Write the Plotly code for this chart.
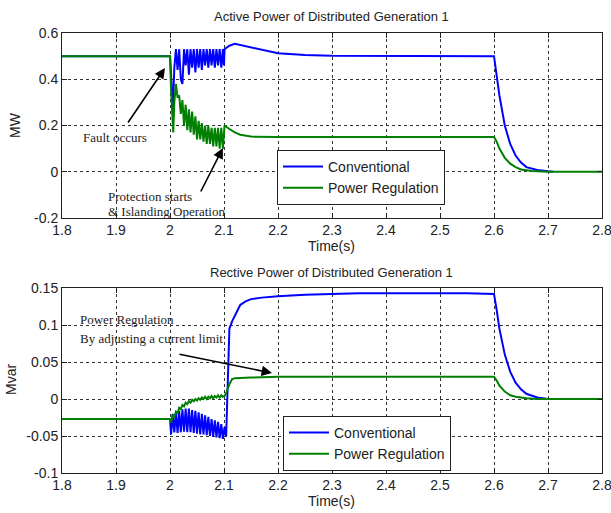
import plotly.graph_objects as go

# ---------------- DATA ----------------
# Active power (MW)
t_p_conv = [1.8, 2.0, 2.002, 2.005, 2.008, 2.011, 2.014, 2.017, 2.020, 2.023, 2.026, 2.029, 2.032,
            2.035, 2.038, 2.041, 2.044, 2.047, 2.050, 2.053, 2.056, 2.059, 2.062, 2.065, 2.068,
            2.071, 2.074, 2.077, 2.080, 2.083, 2.086, 2.089, 2.092, 2.095, 2.098, 2.100, 2.101,
            2.11, 2.12, 2.13, 2.15, 2.18, 2.2, 2.25, 2.3, 2.6, 2.605, 2.61, 2.62, 2.63, 2.64,
            2.65, 2.66, 2.68, 2.7, 2.71]
p_conv = [0.50, 0.50, 0.42, 0.26, 0.45, 0.53, 0.44, 0.53, 0.40, 0.38, 0.53, 0.46, 0.53,
          0.42, 0.53, 0.45, 0.53, 0.43, 0.53, 0.45, 0.53, 0.44, 0.53, 0.46, 0.53,
          0.45, 0.53, 0.46, 0.53, 0.45, 0.53, 0.46, 0.53, 0.45, 0.53, 0.46, 0.53,
          0.545, 0.553, 0.548, 0.535, 0.52, 0.512, 0.505, 0.502, 0.50, 0.42, 0.33, 0.20, 0.12, 0.07,
          0.04, 0.02, 0.008, 0.002, 0.0]

t_p_reg = [1.8, 2.0, 2.002, 2.004, 2.006, 2.008, 2.011, 2.014, 2.017, 2.020, 2.023, 2.026, 2.029,
           2.032, 2.035, 2.038, 2.041, 2.044, 2.047, 2.050, 2.053, 2.056, 2.059, 2.062, 2.065,
           2.068, 2.071, 2.074, 2.077, 2.080, 2.083, 2.086, 2.089, 2.092, 2.095, 2.098, 2.100,
           2.101, 2.11, 2.12, 2.13, 2.15, 2.2, 2.6, 2.605, 2.61, 2.62, 2.63, 2.64, 2.65, 2.67,
           2.7, 2.8]
p_reg = [0.50, 0.50, 0.35, 0.25, 0.17, 0.30, 0.38, 0.32, 0.33, 0.25, 0.31, 0.20, 0.29,
         0.18, 0.27, 0.17, 0.26, 0.16, 0.24, 0.14, 0.22, 0.14, 0.21, 0.13, 0.20,
         0.12, 0.20, 0.12, 0.19, 0.11, 0.19, 0.11, 0.19, 0.10, 0.19, 0.10, 0.19,
         0.20, 0.185, 0.17, 0.16, 0.152, 0.15, 0.15, 0.13, 0.10, 0.06, 0.035, 0.02, 0.01, 0.003,
         0.0, 0.0]

# Reactive power (Mvar)
t_q_conv = [1.8, 2.0, 2.002, 2.005, 2.008, 2.011, 2.014, 2.017, 2.020, 2.023, 2.026, 2.029, 2.032,
            2.035, 2.038, 2.041, 2.044, 2.047, 2.050, 2.053, 2.056, 2.059, 2.062, 2.065, 2.068,
            2.071, 2.074, 2.077, 2.080, 2.083, 2.086, 2.089, 2.092, 2.095, 2.098, 2.101, 2.104,
            2.106, 2.108, 2.110, 2.115, 2.12, 2.125, 2.13, 2.14, 2.15, 2.17, 2.2, 2.25, 2.3, 2.35,
            2.55, 2.6, 2.605, 2.61, 2.62, 2.63, 2.64, 2.65, 2.66, 2.68, 2.7]
q_conv = [-0.027, -0.027, -0.048, -0.020, -0.045, -0.018, -0.046, -0.016, -0.045, -0.014, -0.044, -0.013, -0.045,
          -0.013, -0.045, -0.015, -0.046, -0.016, -0.047, -0.018, -0.048, -0.020, -0.048, -0.022, -0.049,
          -0.024, -0.050, -0.027, -0.051, -0.029, -0.052, -0.031, -0.053, -0.034, -0.054, -0.038, -0.050,
          0.0, 0.05, 0.095, 0.105, 0.112, 0.120, 0.127, 0.132, 0.135, 0.137, 0.139, 0.141, 0.142, 0.143,
          0.143, 0.142, 0.12, 0.095, 0.06, 0.037, 0.022, 0.013, 0.007, 0.002, 0.0]

t_q_reg = [1.8, 2.0, 2.002, 2.005, 2.008, 2.011, 2.014, 2.017, 2.020, 2.023, 2.026, 2.029, 2.032,
           2.035, 2.038, 2.041, 2.044, 2.047, 2.050, 2.053, 2.056, 2.059, 2.062, 2.065, 2.068,
           2.071, 2.074, 2.077, 2.080, 2.083, 2.086, 2.089, 2.092, 2.095, 2.098, 2.101, 2.105,
           2.11, 2.115, 2.12, 2.15, 2.2, 2.6, 2.605, 2.61, 2.62, 2.63, 2.64, 2.66, 2.68, 2.8]
q_reg = [-0.027, -0.027, -0.032, -0.022, -0.025, -0.017, -0.019, -0.012, -0.014, -0.008, -0.010, -0.005, -0.007,
         -0.003, -0.005, -0.001, -0.003, 0.000, -0.002, 0.001, -0.001, 0.002, 0.000, 0.003, 0.000,
         0.003, 0.001, 0.004, 0.001, 0.004, 0.002, 0.005, 0.002, 0.005, 0.003, 0.004, 0.010,
         0.020, 0.027, 0.028, 0.029, 0.030, 0.030, 0.025, 0.018, 0.010, 0.005, 0.003, 0.001, 0.0, 0.0]

x_tickvals = [1.8, 1.9, 2.0, 2.1, 2.2, 2.3, 2.4, 2.5, 2.6, 2.7, 2.8]
x_ticktext = ["1.8", "1.9", "2", "2.1", "2.2", "2.3", "2.4", "2.5", "2.6", "2.7", "2.8"]
p_tickvals = [-0.2, 0, 0.2, 0.4, 0.6]
p_ticktext = ["-0.2", "0", "0.2", "0.4", "0.6"]
q_tickvals = [-0.1, -0.05, 0, 0.05, 0.1, 0.15]
q_ticktext = ["-0.1", "-0.05", "0", "0.05", "0.1", "0.15"]

# ---------------- FIGURE ----------------
W, H = 611, 513
ML, MR, MT, MB = 62, 9, 33, 40
PW = W - ML - MR
PH = H - MT - MB

def px2fx(px):
    return (px - ML) / PW

def py2fy(py):
    return (H - MB - py) / PH

BLUE = "#0000FF"
GREEN = "#008000"
sans = "Liberation Sans, Arial, sans-serif"
serif = "Liberation Serif, Times New Roman, serif"

fig = go.Figure()
fig.add_trace(go.Scatter(x=t_p_conv, y=p_conv, mode="lines", name="Conventional",
                         line=dict(color=BLUE, width=2), xaxis="x", yaxis="y", legend="legend"))
fig.add_trace(go.Scatter(x=t_p_reg, y=p_reg, mode="lines", name="Power Regulation",
                         line=dict(color=GREEN, width=2), xaxis="x", yaxis="y", legend="legend"))
fig.add_trace(go.Scatter(x=t_q_conv, y=q_conv, mode="lines", name="Conventional",
                         line=dict(color=BLUE, width=2), xaxis="x2", yaxis="y2", legend="legend2"))
fig.add_trace(go.Scatter(x=t_q_reg, y=q_reg, mode="lines", name="Power Regulation",
                         line=dict(color=GREEN, width=2), xaxis="x2", yaxis="y2", legend="legend2"))

axis_common = dict(showline=True, mirror="ticks", linecolor="#222222", linewidth=1,
                   ticks="inside", ticklen=5, tickcolor="#222222",
                   showgrid=True, gridcolor="#333333", griddash="3px,3px", gridwidth=1,
                   zeroline=False, ticklabeloverflow="allow",
                   tickfont=dict(family=sans, size=14, color="#222222"))

top_dom = [py2fy(218), 1.0]
bot_dom = [0.0, py2fy(288)]

fig.update_layout(
    width=W, height=H,
    margin=dict(l=ML, r=MR, t=MT, b=MB, autoexpand=False),
    paper_bgcolor="white", plot_bgcolor="white",
    xaxis=dict(domain=[0, 1], range=[1.8, 2.8], anchor="y", ticklabelstandoff=-1,
               tickvals=x_tickvals, ticktext=x_ticktext, **axis_common),
    yaxis=dict(domain=top_dom, range=[-0.2, 0.6], anchor="x",
               tickvals=p_tickvals, ticktext=p_ticktext, **axis_common),
    xaxis2=dict(domain=[0, 1], range=[1.8, 2.8], anchor="y2", ticklabelstandoff=-1,
                tickvals=x_tickvals, ticktext=x_ticktext, **axis_common),
    yaxis2=dict(domain=bot_dom, range=[-0.1, 0.15], anchor="x2",
                tickvals=q_tickvals, ticktext=q_ticktext, **axis_common),
    legend=dict(x=px2fx(277), y=py2fy(150), xanchor="left", yanchor="top",
                bgcolor="white", bordercolor="#222222", borderwidth=1, itemwidth=40,
                font=dict(family=sans, size=14, color="#222222"), tracegroupgap=0),
    legend2=dict(x=px2fx(283), y=py2fy(416), xanchor="left", yanchor="top",
                 bgcolor="white", bordercolor="#222222", borderwidth=1, itemwidth=40,
                 font=dict(family=sans, size=14, color="#222222"), tracegroupgap=0),
    showlegend=True,
)

anns = []
lab = dict(xref="paper", yref="paper", showarrow=False, xanchor="center", yanchor="middle")
# titles and axis labels
anns.append(dict(text="Active Power of Distributed Generation 1", x=px2fx(331), y=py2fy(17),
                 font=dict(family=sans, size=13, color="#222222"), **lab))
anns.append(dict(text="Rective Power of Distributed Generation 1", x=px2fx(331), y=py2fy(272),
                 font=dict(family=sans, size=13, color="#222222"), **lab))
anns.append(dict(text="Time(s)", x=px2fx(331), y=py2fy(246),
                 font=dict(family=sans, size=14, color="#222222"), **lab))
anns.append(dict(text="Time(s)", x=px2fx(331), y=py2fy(501),
                 font=dict(family=sans, size=14, color="#222222"), **lab))
anns.append(dict(text="MW", x=px2fx(15), y=py2fy(125), textangle=-90,
                 font=dict(family=sans, size=14, color="#222222"), **lab))
anns.append(dict(text="Mvar", x=px2fx(11), y=py2fy(380), textangle=-90,
                 font=dict(family=sans, size=14, color="#222222"), **lab))

# text annotations (serif)
tf = dict(family=serif, size=13, color="#222222")
anns.append(dict(text="Fault occurs", x=1.899, y=0.150, xref="x", yref="y", showarrow=False, font=tf,
                 xanchor="center", yanchor="middle"))
anns.append(dict(text="Protection starts", x=1.8815, y=-0.109, xref="x", yref="y", xanchor="left",
                 yanchor="middle", showarrow=False, font=tf))
anns.append(dict(text="& Islanding Operation", x=1.8815, y=-0.174, xref="x", yref="y", xanchor="left",
                 yanchor="middle", showarrow=False, font=tf))
anns.append(dict(text="Power Regulation", x=1.8296, y=0.1068, xref="x2", yref="y2", xanchor="left",
                 yanchor="middle", showarrow=False, font=tf))
anns.append(dict(text="By adjusting a current limit", x=1.8296, y=0.0824, xref="x2", yref="y2",
                 xanchor="left", yanchor="middle", showarrow=False, font=tf))

# arrows
arr = dict(text="", showarrow=True, arrowhead=2, arrowsize=1.3, arrowwidth=1.6, arrowcolor="black")
anns.append(dict(x=1.9907, y=0.4487, ax=1.9204, ay=0.2065, xref="x", yref="y", axref="x", ayref="y", **arr))
anns.append(dict(x=2.098, y=0.1027, ax=2.0556, ay=-0.0919, xref="x", yref="y", axref="x", ayref="y", **arr))
anns.append(dict(x=2.1889, y=0.0351, ax=2.0148, ay=0.0608, xref="x2", yref="y2", axref="x2", ayref="y2", **arr))

fig.update_layout(annotations=anns)
fig.write_html("out.html", config={"displayModeBar": False},
               post_script="document.body.style.margin='0';document.body.style.overflow='hidden';")
